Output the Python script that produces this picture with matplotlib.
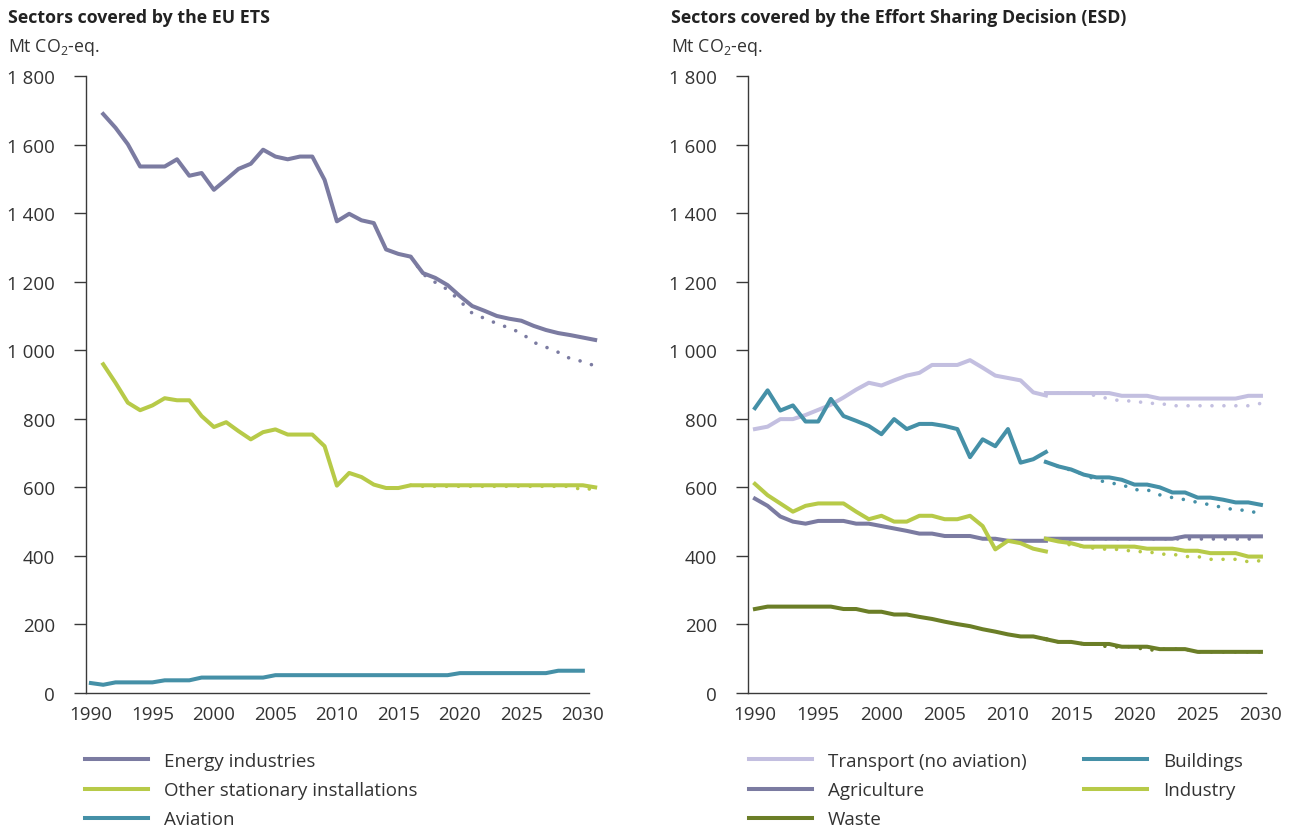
import numpy as np
import matplotlib
matplotlib.use("Agg")
import matplotlib.pyplot as plt
from matplotlib.ticker import FuncFormatter, MultipleLocator

plt.rcParams['font.family'] = ['Open Sans', 'DejaVu Sans']
plt.rcParams['mathtext.fontset'] = 'custom'
plt.rcParams['mathtext.rm'] = 'Open Sans'

###########################################################################
# data (Mt CO2-eq.)
years = list(range(1990, 2031))

# EU ETS
energy = [1689, 1649, 1601, 1536, 1536, 1536, 1557, 1509, 1517, 1468,
          1498, 1529, 1544, 1585, 1565, 1557, 1565, 1565, 1497, 1376,
          1398, 1379, 1371, 1294, 1281, 1273, 1225, 1211, 1190, 1158,
          1129, 1115, 1100, 1092, 1086, 1071, 1059, 1050, 1044, 1037, 1030]
energy_wam = [1273, 1222, 1198, 1177, 1144, 1108, 1093, 1078, 1065, 1050,
              1023, 1009, 994, 975, 967, 954]
other_stat = [959, 905, 847, 825, 839, 860, 854, 854, 808, 776,
              790, 764, 740, 761, 769, 754, 754, 754, 720, 605,
              642, 630, 608, 598, 598] + [606] * 15 + [600]
other_stat_wam = [606] + [603] * 13 + [592, 598]
aviation = [29, 24, 31, 31, 31, 31, 37, 37, 37, 45, 45, 45, 45, 45, 45] \
    + [52] * 15 + [58] * 8 + [65] * 3

# ESD : historic 1990-2013, projections 2013-2030
hist_years = list(range(1990, 2014))
proj_years = list(range(2013, 2031))

transport_hist = [770, 777, 799, 799, 811, 826, 841, 862, 885, 905, 897, 912,
                  926, 934, 957, 957, 957, 971, 949, 926, 919, 912, 877, 868]
transport_wem = [875] * 6 + [867] * 3 + [859] * 7 + [867] * 2
transport_wam = [875] * 4 + [867, 858, 852, 852, 845, 845] + [838] * 7 + [845]

buildings_hist = [831, 883, 824, 839, 792, 792, 858, 808, 794, 779, 755, 799,
                  770, 785, 785, 779, 770, 688, 740, 720, 770, 672, 682, 703]
buildings_wem = [674, 661, 652, 637, 629, 629, 622, 608, 608, 600, 585, 585,
                 570, 570, 564, 556, 556, 549]
buildings_wam = [674, 661, 650, 637, 622, 613, 608, 593, 593, 578, 570, 564,
                 556, 549, 541, 534, 533, 521]

industry_hist = [610, 577, 553, 529, 546, 553, 553, 553, 529, 507, 517, 500,
                 500, 517, 517, 507, 507, 517, 487, 419, 444, 437, 421, 413]
industry_wem = [450, 442, 437] + [427] * 5 + [421] * 3 + [415] * 2 \
    + [408] * 3 + [398] * 2
industry_wam = [450, 442, 431, 427, 421, 419, 419, 412, 413, 405, 405, 398,
                398, 390, 390, 390, 383, 386]

agri_hist = [567, 546, 515, 500, 494, 502, 502, 502, 494, 494, 487, 480,
             473, 465, 465, 458, 458, 458, 450, 450, 444, 444, 444, 444]
agri_wem = [450] * 11 + [457] * 7
agri_wam = [450] * 18

waste_hist = [245, 252, 252, 252, 252, 252, 252, 245, 245, 237, 237, 229,
              229, 222, 216, 208, 201, 195, 186, 179, 171, 165, 165, 157]
waste_wem = [157, 149, 149, 143, 143, 143, 135, 135, 135, 128, 128, 128,
             120, 120, 120, 120, 120, 120]
waste_wam = [157, 149, 149, 143, 143, 133, 135, 135, 124, 128, 128, 128,
             120, 120, 120, 120, 120, 120]

###########################################################################
# cores
c_energy = '#7b7ba1'
c_lime = '#b7ca48'
c_teal = '#4590a7'
c_lav = '#c3bfe0'
c_waste = '#6b7e27'
c_txt = '#333333'

LW = 2.9
DOT = dict(lw=2.6, ls=(0, (0.01, 3.3)), dash_capstyle='round')
FS = 13.5

fig = plt.figure(figsize=(12.93, 8.29), dpi=100)
ax1 = fig.add_axes([86 / 1293, 135 / 829, 503 / 1293, 617 / 829])
ax2 = fig.add_axes([748 / 1293, 135 / 829, 518 / 1293, 617 / 829])

fmt = FuncFormatter(lambda v, p: f'{int(v):,}'.replace(',', ' '))
for ax in (ax1, ax2):
    ax.set_ylim(0, 1800)
    ax.yaxis.set_major_locator(MultipleLocator(200))
    ax.yaxis.set_major_formatter(fmt)
    ax.xaxis.set_major_locator(MultipleLocator(5))
    ax.spines['top'].set_visible(False)
    ax.spines['right'].set_visible(False)
    for s in ('left', 'bottom'):
        ax.spines[s].set_color('#3a3a3a')
        ax.spines[s].set_linewidth(1.0)
    ax.tick_params(axis='y', direction='out', length=8.3, width=1.0,
                   color='#3a3a3a', pad=14, labelsize=FS, labelcolor=c_txt)
    ax.tick_params(axis='x', length=0, pad=9, labelsize=FS, labelcolor=c_txt)
ax1.set_xlim(1989.6, 2030.5)
ax2.set_xlim(1989.45, 2030.4)

# EU ETS (energy + other stationary sit one year to the right in the source)
ets_x = [y + 1 for y in years]
h_en, = ax1.plot(ets_x, energy, color=c_energy, lw=LW, clip_on=False,
                 label='Energy industries')
ax1.plot(ets_x[25:], energy_wam, color=c_energy, clip_on=False, **DOT)
h_os, = ax1.plot(ets_x, other_stat, color=c_lime, lw=LW, clip_on=False,
                 label='Other stationary installations')
ax1.plot(ets_x[25:], other_stat_wam, color=c_lime, clip_on=False, **DOT)
h_av, = ax1.plot(years, aviation, color=c_teal, lw=LW, clip_on=False,
                 label='Aviation')

# ESD
series = [
    ('Transport (no aviation)', c_lav, transport_hist, transport_wem, transport_wam),
    ('Buildings', c_teal, buildings_hist, buildings_wem, buildings_wam),
    ('Agriculture', c_energy, agri_hist, agri_wem, agri_wam),
    ('Industry', c_lime, industry_hist, industry_wem, industry_wam),
    ('Waste', c_waste, waste_hist, waste_wem, waste_wam),
]
hs = {}
for nome, cor, hist, wem, wam in series:
    ax2.plot(proj_years, wam, color=cor, clip_on=False, **DOT)
    hs[nome], = ax2.plot(hist_years, hist, color=cor, lw=LW, clip_on=False, label=nome)
    ax2.plot(proj_years, wem, color=cor, lw=LW, clip_on=False)

# textos
fig.text(8 / 1293, 1 - 18 / 829, 'Sectors covered by the EU ETS', fontsize=12.8,
         fontweight='bold', color='#222222', va='center')
fig.text(671 / 1293, 1 - 18 / 829, 'Sectors covered by the Effort Sharing Decision (ESD)',
         fontsize=12.8, fontweight='bold', color='#222222', va='center')
fig.text(8 / 1293, 1 - 48 / 829, r'Mt CO$_\mathregular{2}$-eq.', fontsize=12.8,
         color=c_txt, va='center')
fig.text(671 / 1293, 1 - 48 / 829, r'Mt CO$_\mathregular{2}$-eq.', fontsize=12.8,
         color=c_txt, va='center')

# legendas
leg_kw = dict(loc='upper left', frameon=False, fontsize=FS, handlelength=3.36,
              handletextpad=0.85, labelspacing=0.6, borderpad=0, borderaxespad=0,
              bbox_transform=fig.transFigure, labelcolor=c_txt)
top = 1 - 753 / 829
l1 = ax1.legend(handles=[h_en, h_os, h_av], bbox_to_anchor=(85 / 1293, top), **leg_kw)
l2 = ax2.legend(handles=[hs['Transport (no aviation)'], hs['Agriculture'], hs['Waste']],
                bbox_to_anchor=(749 / 1293, top), **leg_kw)
ax2.add_artist(l2)
l3 = ax2.legend(handles=[hs['Buildings'], hs['Industry']],
                bbox_to_anchor=(1084 / 1293, top), **leg_kw)

fig.savefig('out.png', dpi=100)
